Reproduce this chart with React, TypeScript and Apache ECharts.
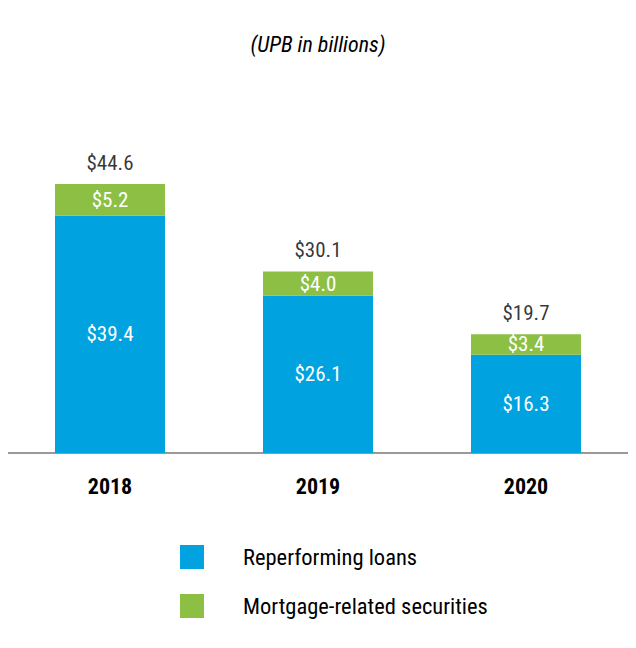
import React, { useEffect, useRef } from "react";
import * as echarts from "echarts";

const years = ["2018", "2019", "2020"];
const reperformingLoans = [39.4, 26.1, 16.3];
const mortgageSecurities = [5.2, 4.0, 3.4];
const totals = [44.6, 30.1, 19.7];

const FONT = "'Liberation Sans Narrow', 'Roboto Condensed', 'DejaVu Sans Condensed', Roboto, sans-serif";
const BLUE = "#00A3E0";
const GREEN = "#8CBF44";

export default function App() {
  const ref = useRef<HTMLDivElement>(null);
  useEffect(() => {
    if (!ref.current) return;
    const chart = echarts.init(ref.current, null, { renderer: "svg" });
    const fmt = (p: any) => "$" + Number(p.value).toFixed(1);
    chart.setOption({
      animation: false,
      textStyle: { fontFamily: FONT },
      title: {
        text: "(UPB in billions)",
        left: "center",
        top: 28,
        textStyle: { fontFamily: FONT, fontStyle: "italic", fontWeight: "normal", fontSize: 22, color: "#000" },
      },
      legend: {
        orient: "vertical",
        left: 175,
        top: 540,
        itemWidth: 24,
        itemHeight: 24,
        itemGap: 25,
        icon: "rect",
        data: ["Reperforming loans", "Mortgage-related securities"],
        textStyle: { fontFamily: FONT, fontSize: 22.5, color: "#000", padding: [0, 0, 0, 34] },
      },
      grid: { left: 6, right: 6, top: 151.5, bottom: 195, containLabel: false },
      xAxis: {
        type: "category",
        data: years,
        axisLine: { lineStyle: { color: "#999", width: 2 } },
        axisTick: { alignWithLabel: true, length: 12, lineStyle: { color: "#999", width: 2 } },
        axisLabel: { fontFamily: FONT, fontWeight: "bold", fontSize: 22, color: "#000", margin: 22 },
      },
      yAxis: { type: "value", min: 0, max: 50, show: false, splitLine: { show: false } },
      series: [
        {
          name: "Reperforming loans",
          type: "bar",
          stack: "upb",
          barWidth: 110,
          data: reperformingLoans,
          itemStyle: { color: BLUE },
          label: { show: true, position: "inside", formatter: fmt, color: "#fff", fontFamily: FONT, fontSize: 21 },
        },
        {
          name: "Mortgage-related securities",
          type: "bar",
          stack: "upb",
          barWidth: 110,
          data: mortgageSecurities,
          itemStyle: { color: GREEN },
          label: { show: true, position: "inside", formatter: fmt, color: "#fff", fontFamily: FONT, fontSize: 21 },
        },
        {
          name: "Total",
          type: "scatter",
          data: totals,
          symbolSize: 0,
          silent: true,
          label: { show: true, position: "top", distance: 11, formatter: fmt, color: "#000", fontFamily: FONT, fontSize: 21 },
        },
      ],
    });
    return () => chart.dispose();
  }, []);
  return <div ref={ref} style={{ width: 636, height: 648, margin: -8 }} />;
}
